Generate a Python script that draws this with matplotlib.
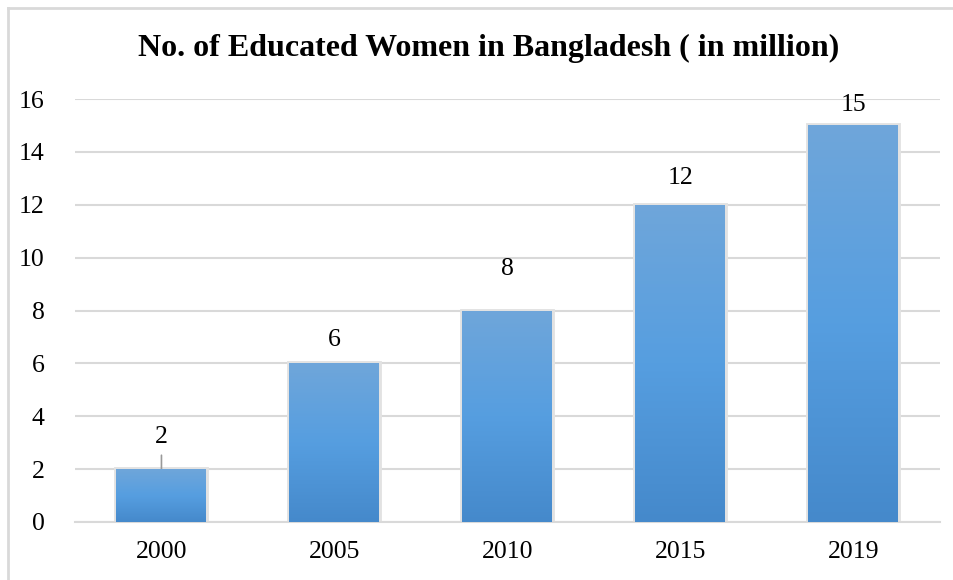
import matplotlib.pyplot as plt
import numpy as np
from matplotlib.lines import Line2D
from matplotlib.colors import LinearSegmentedColormap

years = ["2000", "2005", "2010", "2015", "2019"]
women = [2, 6, 8, 12, 15]

# label offsets above bar top (points), as placed in the original
label_offsets = [23, 17, 30, 19, 15]

plt.rcParams['font.family'] = ['Liberation Serif', 'DejaVu Serif']

fig = plt.figure(figsize=(9.54, 5.8), dpi=100)
ax = fig.add_axes([0.0786, 0.1000, 0.9064, 0.7293])

x = np.arange(len(years))
w = 0.52

# soft shadow behind bars
ax.bar(x, women, width=w, color='none', edgecolor='#e2e2e2', linewidth=3.5, zorder=2)
bars = ax.bar(x, women, width=w, color='#5b9bd5', zorder=3)

# vertical gradient on each bar
grad = np.linspace(0, 1, 256).reshape(-1, 1)
cmap = LinearSegmentedColormap.from_list('blu', ['#4589cb', '#569ee0', '#6fa6da'])
for b in bars:
    x0, y0 = b.get_x(), b.get_y()
    im = ax.imshow(grad, cmap=cmap, aspect='auto', origin='lower',
                   extent=[x0, x0 + b.get_width(), y0, y0 + b.get_height()], zorder=4)
    im.set_clip_path(b)

for i, v in enumerate(women):
    ax.annotate(str(v), (x[i], v), xytext=(0, label_offsets[i]), textcoords='offset points',
                ha='center', va='center', fontsize=18.5, color='#000000', zorder=5)

# leader line for the first label
ax.annotate('', (x[0], women[0]), xytext=(0, 10), textcoords='offset points',
            arrowprops=dict(arrowstyle='-', color='#999999', lw=1.2, shrinkA=0, shrinkB=0))

ax.set_xlim(-0.5, len(years) - 0.5)
ax.set_ylim(0, 16)
ax.set_yticks(range(0, 17, 2))
ax.set_xticks(x)
ax.set_xticklabels(years)
ax.yaxis.grid(True, color='#d9d9d9', linewidth=1.5, zorder=0)
ax.set_axisbelow(True)
for s in ['top', 'right', 'left']:
    ax.spines[s].set_visible(False)
ax.spines['bottom'].set_color('#d9d9d9')
ax.spines['bottom'].set_linewidth(1.5)
ax.tick_params(axis='both', length=0, labelsize=18.5, colors='#000000')
ax.tick_params(axis='y', pad=22)
ax.tick_params(axis='x', pad=14)

fig.text(489/954, 1 - 48/580, "No. of Educated Women in Bangladesh ( in million)",
         fontsize=23, fontweight='bold', ha='center', va='center')

# chart border (top and left visible)
fig.add_artist(Line2D([8/954, 8/954], [0, 1 - 8/580], color='#d9d9d9', lw=2))
fig.add_artist(Line2D([8/954, 1], [1 - 8/580, 1 - 8/580], color='#d9d9d9', lw=2))

fig.savefig('out.png', dpi=100)
